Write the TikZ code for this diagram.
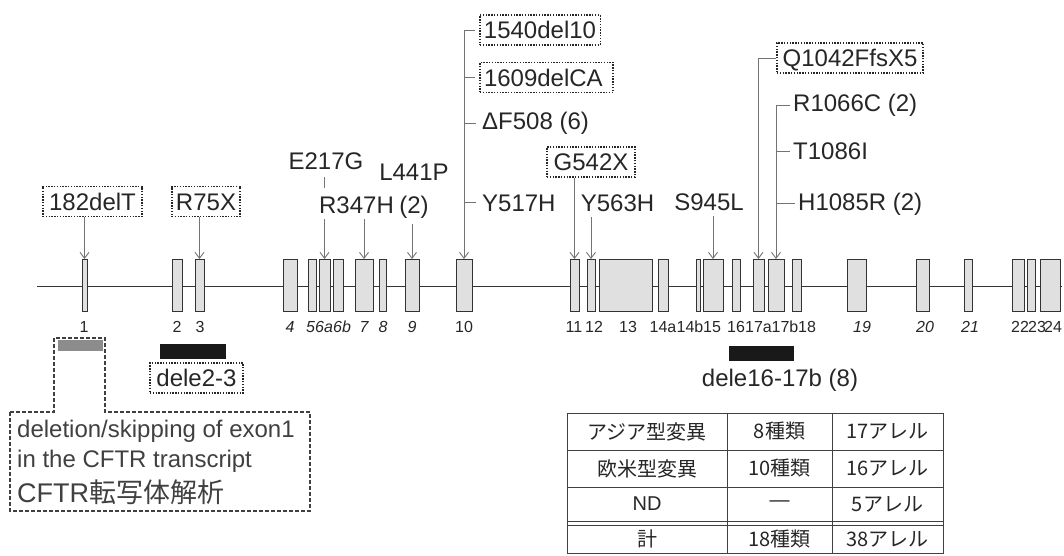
\documentclass[tikz,border=0pt]{standalone}
\usepackage{fontspec}
\setmainfont{Liberation Sans}
\newfontfamily\cjk{Noto Sans CJK JP}
\usetikzlibrary{arrows.meta,positioning}

\begin{document}
\begin{tikzpicture}[x=1pt, y=-1pt,
    exon/.style={draw=black!80, fill=black!12, line width=0.9pt, inner sep=0pt, minimum height=52pt},
    exnum/.style={font=\fontsize{16}{16}\selectfont, inner sep=0pt, text height=11.5pt, text depth=0pt, text=black!85},
    mut/.style={font=\fontsize{24}{28}\selectfont, inner sep=2pt, text=black!85},
    dotbox/.style={mut, draw=black!85, dash pattern=on 1.4pt off 1.4pt, line width=1.1pt,
                   inner xsep=4pt, inner ysep=0pt, text height=17.5pt, text depth=0pt, minimum height=30pt},
    hit/.style={draw=black!55, line width=0.9pt, -{Straight Barb[length=6pt, width=9pt, line width=0.9pt]}},
    link/.style={draw=black!55, line width=0.9pt},
    delbar/.style={inner sep=0pt, draw=none},
    note/.style={font=\fontsize{24}{28}\selectfont, inner sep=2pt, text=black!75, anchor=base west},
    cell/.style={font=\cjk\fontsize{20}{20}\selectfont, text=black!85, inner sep=0pt}
]
\useasboundingbox (0,0) rectangle (1064,556);

% Gene backbone
\coordinate (gstart) at (37,286);
\coordinate (gend) at (1062,286);
\draw[line width=0.9pt, black!80] (gstart) -- (gend);

% Exons (name/left/right)
\foreach \n/\l/\r in {1/82/87, 2/172/182, 3/195/204, 4/283/297, 5/308/316, 6a/319/330, 6b/333/343,
    7/355/373, 8/379/386, 9/405/419, 10/456/472, 11/570/579, 12/587/595, 13/599/652, 14a/658/668,
    14b/696/700, 15/703/723, 16/732/740, 17a/753/764, 17b/768/784, 18/792/801, 19/847/866,
    20/916/929, 21/964/972, 22/1012/1024, 23/1027/1035, 24/1040/1060}{
  \pgfmathsetmacro\w{\r-\l}
  \pgfmathsetmacro\c{(\l+\r)/2}
  \node[exon, minimum width=\w pt] (e\n) at (\c,285.5) {};
}

% Exon numbers
\foreach \n/\x in {1/84, 2/177, 3/200, 10/464, 11/574, 12/594, 13/628, 14a/663, 14b/690, 15/712,
    16/736, 17a/758.5, 17b/785, 18/807, 22/1020, 23/1037, 24/1053}
  \node[exnum] (n\n) at (\x,327) {\n};
\foreach \n/\x in {4/290, 5/310.5, 6a/324, 6b/342, 7/364, 8/383, 9/412, 19/862, 20/925, 21/970}
  \node[exnum, font=\fontsize{16}{16}\selectfont\itshape] (n\n) at (\x,327) {\n};

% Mutations
\node[dotbox, minimum width=99pt] (m182) at (92.5,201.5) {182delT};
\node[dotbox, minimum width=68pt] (r75x) at (206,201.5) {R75X};
\node[mut, anchor=base] (e217g) at (326,169) {E217G};
\node[mut, anchor=base] (r347h) at (356.5,213) {R347H};
\node[mut, anchor=base] (l441p) at (414,180) {L441P};
\node[mut, anchor=base] (l441pn) at (414,213) {(2)};
\node[dotbox, minimum width=120pt] (m1540) at (540,30) {1540del10};
\node[dotbox, minimum width=133pt, text width=125pt] (m1609) at (546.5,77.5) {1609delCA};
\node[mut, anchor=base west] (df508) at (480,130) {ΔF508 (6)};
\node[mut, anchor=base west] (y517h) at (480,211) {Y517H};
\node[dotbox, minimum width=88pt] (g542x) at (591,162) {G542X};
\node[mut, anchor=base] (y563h) at (617.5,211) {Y563H};
\node[mut, anchor=base] (s945l) at (709,210) {S945L};
\node[dotbox, minimum width=146pt] (q1042) at (850,58) {Q1042FfsX5};
\node[mut, anchor=base west] (r1066c) at (791,112) {R1066C (2)};
\node[mut, anchor=base west] (t1086i) at (791,160) {T1086I};
\node[mut, anchor=base west] (h1085r) at (796,210) {H1085R (2)};

% Arrows to exons
\draw[hit] (m182.south -| e1.north) -- (e1.north);
\draw[hit] (r75x.south -| e3.north) -- (e3.north);
\draw[link] ([yshift=-6pt]e217g.south -| e6a.north) -- ([yshift=6pt]r347h.north -| e6a.north);
\draw[hit] ([yshift=-4pt]r347h.south -| e6a.north) -- (e6a.north);
\draw[hit] ([yshift=-4pt]r347h.south -| e7.north) -- (e7.north);
\draw[hit] ([yshift=-4pt]l441pn.south -| e9.north) -- (e9.north);
\draw[hit] (m1540.west -| e10.north) -- (e10.north);
\foreach \m in {m1540, m1609, df508, y517h}
  \draw[link] (\m.west -| e10.north) -- ([xshift=-4pt]\m.west);
\draw[hit] (g542x.south -| e11.north) -- (e11.north);
\draw[hit] ([yshift=-4pt]y563h.south -| e12.north) -- (e12.north);
\draw[hit] ([yshift=-4pt]s945l.south -| e15.north) -- (e15.north);
\draw[hit] (q1042.west) -| (e17a.north);
\draw[hit] (r1066c.west -| e17b.north) -- (e17b.north);
\foreach \m in {r1066c, t1086i, h1085r}
  \draw[link] (\m.west -| e17b.north) -- ([xshift=-1pt]\m.west);

% Deletions
\node[delbar, fill=black!45, minimum width=45pt, minimum height=11pt] (del1) at (80.5,345.5) {};
\node[delbar, fill=black!90, minimum width=66pt, minimum height=15pt] (del23) at (193,351.5) {};
\node[delbar, fill=black!90, minimum width=65pt, minimum height=15pt] (del1617) at (761.5,353.5) {};
\node[dotbox, minimum width=93pt] (dele23) at (196.5,378) {dele2-3};
\node[mut, anchor=base] (dele1617) at (780,386) {dele16-17b (8)};

% Transcript note
\draw[black!75, line width=1.1pt, dash pattern=on 4pt off 2pt]
  (10,412) -- (54,412) -- (54,338) -- (105,338) -- (105,412) -- (310,412) -- (310,511) -- (10,511) -- cycle;
\node[note] (note1) at (15,437) {deletion/skipping of exon1};
\node[note] (note2) at (15,467) {in the CFTR transcript};
\node[note, font=\fontsize{27}{30}\selectfont] (note3) at (15,502) {CFTR{\cjk 転写体解析}};

% Table
\draw[black!75, line width=0.9pt] (567,413) rectangle (943,553);
\foreach \y in {450, 487, 521, 525}
  \draw[black!75, line width=0.9pt] (567,\y) -- (943,\y);
\foreach \x in {727, 832}
  \draw[black!75, line width=0.9pt] (\x,413) -- (\x,553);
\node[cell] (asia) at (647,431.5) {アジア型変異};
\node[cell] (asiak) at (779.5,431.5) {8種類};
\node[cell] (asiaa) at (887.5,431.5) {17アレル};
\node[cell] (west) at (647,468.5) {欧米型変異};
\node[cell] (westk) at (779.5,468.5) {10種類};
\node[cell] (westa) at (887.5,468.5) {16アレル};
\node[cell, font=\fontsize{20}{20}\selectfont] (nd) at (647,504) {ND};
\node[cell, font=\fontsize{20}{20}\selectfont] (ndk) at (779.5,504) {—};
\node[cell] (nda) at (887.5,504) {5アレル};
\node[cell] (total) at (647,539) {計};
\node[cell] (totalk) at (779.5,539) {18種類};
\node[cell] (totala) at (887.5,539) {38アレル};

\end{tikzpicture}
\end{document}
